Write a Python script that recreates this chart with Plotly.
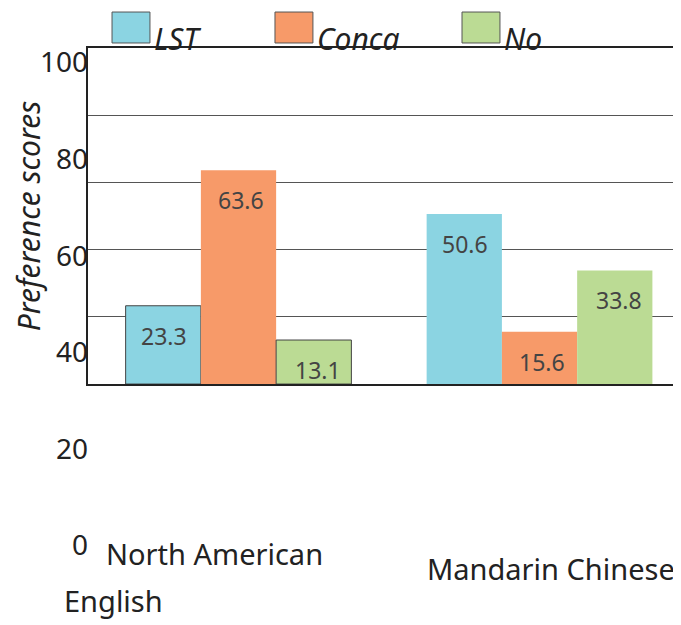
import plotly.graph_objects as go

# data
categories = ["North American English", "Mandarin Chinese"]
series_names = ["LST", "Conca", "No"]
lst_scores = [23.3, 50.6]
conca_scores = [63.6, 15.6]
no_scores = [13.1, 33.8]
y_ticks = [0, 20, 40, 60, 80, 100]

colors = ["#8BD4E2", "#F79A69", "#BBDB94"]
all_scores = [lst_scores, conca_scores, no_scores]

FONT = "Noto Sans"

fig = go.Figure()
for i, (name, vals) in enumerate(zip(series_names, all_scores)):
    fig.add_trace(go.Bar(
        x=categories, y=vals, name=name,
        marker=dict(color=colors[i],
                    line=dict(color="#444444", width=[1, 0] if i != 1 else 0)),
        showlegend=False, hoverinfo="x+y+name",
    ))
    # value labels a bit below the top of each bar
    for cat, v in zip(categories, vals):
        fig.add_annotation(x=cat, y=v, xref="x", yref="y", text=f"{v}",
                           showarrow=False, xshift=(i - 1) * 77 + 2, yshift=-30,
                           font=dict(family=FONT, size=23, color="#444444"))

# dummy trace so the second (label only) y axis is drawn
fig.add_trace(go.Scatter(x=[categories[0]], y=[None], yaxis="y2",
                         showlegend=False, hoverinfo="skip"))

# hand-made legend with big swatches
leg_x = [0.0405, 0.3153, 0.6307]
for i, name in enumerate(series_names):
    fig.add_shape(type="rect", xref="paper", yref="paper",
                  x0=leg_x[i], x1=leg_x[i] + 0.064, y0=1.0097, y1=1.0696,
                  fillcolor=colors[i], line=dict(color="#555555", width=1))
    fig.add_annotation(xref="paper", yref="paper", x=leg_x[i] + 0.068, y=1.018,
                       xanchor="left", yanchor="middle", text=name, showarrow=False,
                       font=dict(family=FONT, size=30, color="#222222", style="italic"))

# category labels, laid out like the reference
cat_font = dict(family=FONT, size=29, color="#222222")
fig.add_annotation(x=categories[0], xref="x", yref="paper", y=0.023, xshift=-24,
                   yanchor="middle", text="North American", showarrow=False, font=cat_font)
fig.add_annotation(x=categories[0], xref="x", yref="paper", y=-0.068, xshift=-125,
                   yanchor="middle", text="English", showarrow=False, font=cat_font)
fig.add_annotation(x=categories[1], xref="x", yref="paper", y=-0.006, xshift=11,
                   yanchor="middle", text="Mandarin Chinese", showarrow=False, font=cat_font)

# page body adds an 8px margin, so the figure is 8px smaller than the window
fig.update_layout(
    width=673, height=617,
    margin=dict(l=80, r=0, t=40, b=60, autoexpand=False),
    paper_bgcolor="white", plot_bgcolor="rgba(0,0,0,0)",
    barmode="group", bargap=0.25, bargroupgap=0,
    xaxis=dict(range=[-0.5, 1.47], showticklabels=False, ticks="",
               showline=True, linecolor="#222222", linewidth=1.5, mirror=True,
               showgrid=False, anchor="y", automargin=False),
    yaxis=dict(domain=[0.35, 1], range=[0, 100], dtick=20,
               showgrid=True, gridcolor="#555555", gridwidth=1.2,
               showline=True, linecolor="#222222", linewidth=1.5,
               zeroline=False, showticklabels=False, ticks="", automargin=False,
               title=dict(text="Preference scores", standoff=46,
                          font=dict(family=FONT, size=30, color="#222222", style="italic"))),
    yaxis2=dict(domain=[0, 1], range=[-4, 103], anchor="free", position=0,
                tickvals=y_ticks, showgrid=False, zeroline=False, showline=False,
                ticks="", automargin=False,
                tickfont=dict(family=FONT, size=28, color="#222222")),
)

fig.write_html("out.html")
